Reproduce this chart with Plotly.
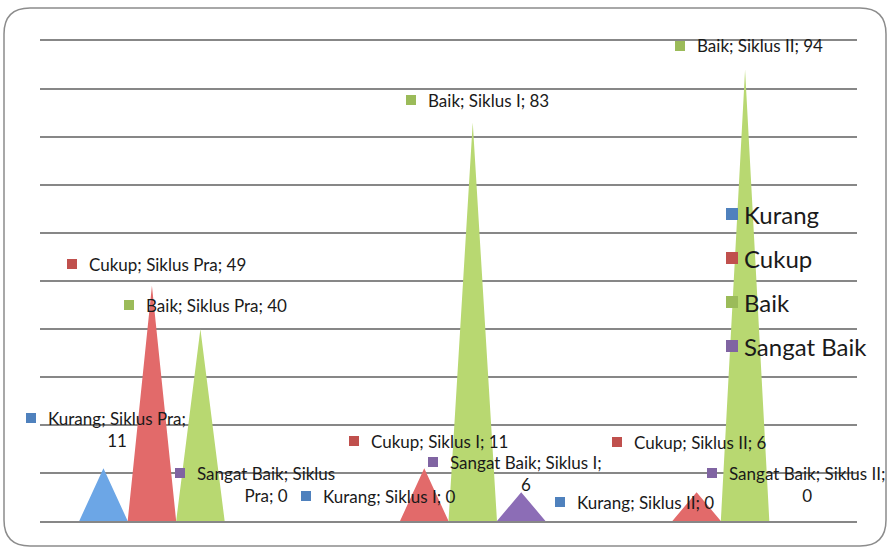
import plotly.graph_objects as go

# ---- data ----
categories = ["Siklus Pra", "Siklus I", "Siklus II"]
series_names = ["Kurang", "Cukup", "Baik", "Sangat Baik"]
kurang = [11, 0, 0]
cukup = [49, 11, 6]
baik = [40, 83, 94]
sangat_baik = [0, 6, 0]
values = [kurang, cukup, baik, sangat_baik]

# ---- styling ----
key_colors = ["#4F81BD", "#C0504D", "#9BBB59", "#8064A2"]
fill_colors = ["#6CA6E6", "#E26A6A", "#B8D871", "#8C6DB6"]
grid_color = "#878787"
FONT = "Lato"

W, H = 889, 548
L, R, T, B = 40, 857, 41, 521          # plot area in pixels
bar_w = 0.178                          # pyramid base width, in category units

# label placement: (key square left x, first-line centre y, block centre y, words before line break)
label_pos = {
    (0, 0): (26, 418, 429.5, 3), (1, 0): (67, 264, 264, 0), (2, 0): (124, 305, 305, 0), (3, 0): (175, 473, 484.5, 3),
    (0, 1): (301, 496, 496, 0), (1, 1): (349, 441, 441, 0), (2, 1): (406, 100, 100, 0), (3, 1): (428, 462, 473.5, 4),
    (0, 2): (555, 502, 502, 0), (1, 2): (612, 442, 442, 0), (2, 2): (675, 46, 46, 0), (3, 2): (707, 473, 484.5, 4),
}
# legend placement: key square left x, first row centre y, row spacing
legend_x, legend_y0, legend_dy = 726, 214, 44


def px_x(px):
    return (px - L) / (R - L)


def px_y(py):
    return (B - py) / (B - T)


fig = go.Figure()

# pyramids: one triangle per category for each series
for j, (name, vals) in enumerate(zip(series_names, values)):
    xs, ys = [], []
    for i, v in enumerate(vals):
        x0 = i - 2 * bar_w + j * bar_w
        xs += [x0, x0 + bar_w / 2, x0 + bar_w, None]
        ys += [0, v, 0, None]
    fig.add_trace(go.Scatter(
        x=xs, y=ys, mode="lines", fill="toself", fillcolor=fill_colors[j], name=name,
        line=dict(width=0, color=fill_colors[j]), hoverinfo="skip", showlegend=False,
    ))

annotations = []
shapes = []


def key_square(x_left, y_mid, size, color):
    shapes.append(dict(
        type="rect", xref="paper", yref="paper", layer="above",
        x0=px_x(x_left), x1=px_x(x_left + size),
        y0=px_y(y_mid + size / 2), y1=px_y(y_mid - size / 2),
        fillcolor=color, line=dict(width=0),
    ))


# data labels with colour keys
for j, name in enumerate(series_names):
    for i, cat in enumerate(categories):
        v = values[j][i]
        sq_x, line_y, block_y, brk = label_pos[(j, i)]
        words = f"{name}; {cat}; {v}".split(" ")
        if brk:
            text = " ".join(words[:brk]) + "<br>" + " ".join(words[brk:])
        else:
            text = " ".join(words)
        annotations.append(dict(
            x=px_x(sq_x + 20), y=px_y(block_y), xref="paper", yref="paper",
            xanchor="left", yanchor="middle", align="center", showarrow=False,
            text=text, font=dict(family=FONT, size=17, color="#1a1a1a"),
        ))
        key_square(sq_x, line_y, 10, key_colors[j])

# legend
for j, name in enumerate(series_names):
    yc = legend_y0 + j * legend_dy
    key_square(legend_x, yc, 12, key_colors[j])
    annotations.append(dict(
        x=px_x(legend_x + 16), y=px_y(yc), xref="paper", yref="paper",
        xanchor="left", yanchor="middle", showarrow=False,
        text=name, font=dict(family=FONT, size=24, color="#1a1a1a"),
    ))

# rounded outer frame
fx0, fy0, fx1, fy1, rad = 4, 8, 886, 546, 26


def pt(px, py):
    return f"{px_x(px):.5f},{px_y(py):.5f}"


path = (
    f"M {pt(fx0 + rad, fy0)} L {pt(fx1 - rad, fy0)} Q {pt(fx1, fy0)} {pt(fx1, fy0 + rad)} "
    f"L {pt(fx1, fy1 - rad)} Q {pt(fx1, fy1)} {pt(fx1 - rad, fy1)} "
    f"L {pt(fx0 + rad, fy1)} Q {pt(fx0, fy1)} {pt(fx0, fy1 - rad)} "
    f"L {pt(fx0, fy0 + rad)} Q {pt(fx0, fy0)} {pt(fx0 + rad, fy0)} Z"
)
shapes.append(dict(type="path", xref="paper", yref="paper", path=path,
                   line=dict(color="#8C8C8C", width=1.5), layer="below"))

fig.update_layout(
    width=W, height=H,
    margin=dict(l=L, r=W - R, t=T, b=H - B),
    paper_bgcolor="white", plot_bgcolor="white",
    font=dict(family=FONT, color="#1a1a1a"),
    showlegend=False,
    xaxis=dict(range=[-0.5, 2.5], showgrid=False, zeroline=False, showticklabels=False,
               ticks="", fixedrange=True, showline=True, mirror=True,
               linecolor=grid_color, linewidth=2),
    yaxis=dict(range=[0, 100], dtick=10, showgrid=True, gridcolor=grid_color, gridwidth=2,
               zeroline=True, zerolinecolor=grid_color, zerolinewidth=2,
               showticklabels=False, ticks="", fixedrange=True, showline=False),
    annotations=annotations,
    shapes=shapes,
)

fig.write_html("out.html")
